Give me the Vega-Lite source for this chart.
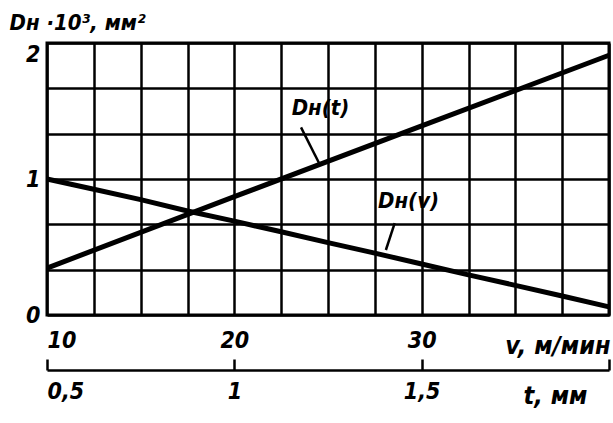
{
  "$schema": "https://vega.github.io/schema/vega-lite/v6.json",
  "width": 562,
  "height": 272,
  "autosize": {"type": "none"},
  "padding": {"left": 47, "top": 43, "right": 4, "bottom": 108},
  "background": "white",
  "config": {
    "view": {"stroke": "black", "strokeWidth": 3},
    "axis": {
      "labelFont": "DejaVu Sans Condensed, DejaVu Sans, sans-serif",
      "labelFontStyle": "italic",
      "labelFontWeight": "bold",
      "labelFontSize": 23,
      "labelColor": "black",
      "titleFont": "DejaVu Sans Condensed, DejaVu Sans, sans-serif",
      "titleFontStyle": "italic",
      "titleFontWeight": "bold",
      "titleFontSize": 22,
      "titleColor": "black"
    }
  },
  "datasets": {
    "dv": [
      {"v": 10, "D": 1.0},
      {"v": 12.5, "D": 0.925},
      {"v": 15, "D": 0.848},
      {"v": 17.5, "D": 0.765},
      {"v": 20, "D": 0.69},
      {"v": 22.5, "D": 0.612},
      {"v": 25, "D": 0.532},
      {"v": 27.5, "D": 0.455},
      {"v": 30, "D": 0.375},
      {"v": 32.5, "D": 0.295},
      {"v": 35, "D": 0.218},
      {"v": 37.5, "D": 0.14},
      {"v": 40, "D": 0.06}
    ],
    "dt": [
      {"t": 0.5, "D": 0.345},
      {"t": 1.0, "D": 0.87},
      {"t": 1.5, "D": 1.39},
      {"t": 2.0, "D": 1.91}
    ],
    "labels": [
      {"v": 24.6, "D": 1.52, "label": "Dн(t)"},
      {"v": 29.3, "D": 0.84, "label": "Dн(v)"}
    ],
    "leaders": [
      {"v1": 23.56, "D1": 1.38, "v2": 24.52, "D2": 1.118},
      {"v1": 28.56, "D1": 0.676, "v2": 28.09, "D2": 0.478}
    ]
  },
  "layer": [
    {
      "layer": [
        {
          "data": {"name": "dv"},
          "mark": {"type": "line", "color": "black", "strokeWidth": 5},
          "encoding": {
            "x": {
              "field": "v", "type": "quantitative", "title": "v, м/мин",
              "scale": {"domain": [10, 40], "nice": false, "zero": false},
              "axis": {
                "values": [10, 12.5, 15, 17.5, 20, 22.5, 25, 27.5, 30, 32.5, 35, 37.5, 40],
                "grid": true, "gridColor": "black", "gridWidth": 2.5, "gridOpacity": 1,
                "ticks": false, "domain": false,
                "labelExpr": "(datum.value == 10 || datum.value == 20 || datum.value == 30) ? datum.label : ''",
                "labelPadding": 14, "labelBaseline": "top",
                "titleFontSize": 25,
                "titleAlign": "right", "titleAnchor": "end", "titleX": 563, "titleY": 38, "titleBaseline": "alphabetic"
              }
            },
            "y": {
              "field": "D", "type": "quantitative", "title": "Dн ·10³, мм²",
              "scale": {"domain": [0, 2], "nice": false},
              "axis": {
                "values": [0, 0.33333, 0.66667, 1, 1.33333, 1.66667, 2],
                "grid": true, "gridColor": "black", "gridWidth": 2.5, "gridOpacity": 1,
                "ticks": false, "domain": false,
                "labelExpr": "datum.value == 0 ? '0' : datum.value == 1 ? '1' : datum.value == 2 ? '2' : ''",
                "labelPadding": 7,
                "labelBaseline": {"condition": {"test": "datum.value == 2", "value": "top"}, "value": "middle"},
                "titleAngle": 0, "titleAlign": "left", "titleX": -38, "titleY": -14, "titleBaseline": "alphabetic"
              }
            }
          }
        },
        {
          "data": {"name": "leaders"},
          "mark": {"type": "rule", "color": "black", "strokeWidth": 2.5},
          "encoding": {
            "x": {"field": "v1", "type": "quantitative", "title": "v, м/мин"},
            "x2": {"field": "v2"},
            "y": {"field": "D1", "type": "quantitative", "title": "Dн ·10³, мм²"},
            "y2": {"field": "D2"}
          }
        },
        {
          "data": {"name": "labels"},
          "mark": {
            "type": "text", "color": "black", "fontSize": 22, "fontStyle": "italic", "fontWeight": "bold",
            "font": "DejaVu Sans Condensed, DejaVu Sans, sans-serif", "align": "center", "baseline": "middle"
          },
          "encoding": {
            "x": {"field": "v", "type": "quantitative", "title": "v, м/мин"},
            "y": {"field": "D", "type": "quantitative", "title": "Dн ·10³, мм²"},
            "text": {"field": "label"}
          }
        }
      ]
    },
    {
      "data": {"name": "dt"},
      "mark": {"type": "line", "color": "black", "strokeWidth": 5},
      "encoding": {
        "x": {
          "field": "t", "type": "quantitative", "title": "t, мм",
          "scale": {"domain": [0.5, 2], "nice": false, "zero": false},
          "axis": {
            "orient": "bottom", "offset": 55,
            "values": [0.5, 1, 1.5, 2],
            "grid": false,
            "domain": true, "domainColor": "black", "domainWidth": 2.5,
            "ticks": true, "tickColor": "black", "tickWidth": 2.5, "tickSize": -11,
            "labelExpr": "datum.value == 0.5 ? '0,5' : datum.value == 1 ? '1' : datum.value == 1.5 ? '1,5' : ''",
            "labelPadding": 21, "labelBaseline": "top",
            "titleFontSize": 25,
            "titleAlign": "right", "titleAnchor": "end", "titleX": 540, "titleY": 33, "titleBaseline": "alphabetic"
          }
        },
        "y": {"field": "D", "type": "quantitative", "title": "Dн ·10³, мм²"}
      }
    }
  ],
  "resolve": {"scale": {"x": "independent"}, "axis": {"x": "independent"}}
}
